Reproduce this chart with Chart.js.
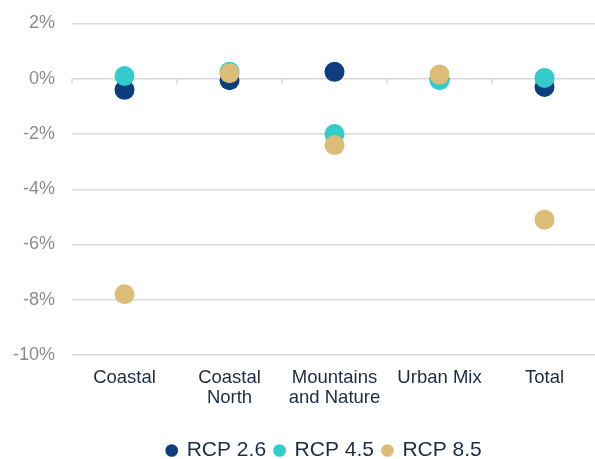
<!DOCTYPE html>
<html>
<head>
<meta charset="utf-8">
<script src="https://cdn.jsdelivr.net/npm/chart.js@4"></script>
<style>
html,body{margin:0;padding:0;background:#fff;overflow:hidden;}
#wrap{width:595px;height:459px;overflow:hidden;}
</style>
</head>
<body>
<div id="wrap"><canvas id="c" width="597" height="459"></canvas></div>
<script>
const categories = [["Coastal"], ["Coastal", "North"], ["Mountains", "and Nature"], ["Urban Mix"], ["Total"]];
const seriesNames = ["RCP 2.6", "RCP 4.5", "RCP 8.5"];
const rcp26 = [-0.4, -0.05, 0.25, 0.0, -0.3];
const rcp45 = [0.1, 0.25, -2.0, -0.05, 0.03];
const rcp85 = [-7.8, 0.2, -2.4, 0.15, -5.1];
const yTicks = [2, 0, -2, -4, -6, -8, -10];
const colors = ["#0c3d7d", "#33cccc", "#dbbd78"];

const zeroTicks = {
  id: 'zeroTicks',
  beforeDatasetsDraw(chart) {
    const x = chart.scales.x, y = chart.scales.y;
    const ctx = chart.ctx;
    const y0 = y.getPixelForValue(0);
    ctx.save();
    ctx.strokeStyle = '#d9d9d9';
    ctx.lineWidth = 1.5;
    const n = categories.length;
    for (let i = 0; i <= n; i++) {
      const px = x.getPixelForValue(i - 0.5);
      ctx.beginPath();
      ctx.moveTo(px, y0);
      ctx.lineTo(px, y0 + 5);
      ctx.stroke();
    }
    ctx.restore();
  }
};

const legendShift = {
  id: 'legendShift',
  afterLayout(chart) {
    chart.legend.left += 28;
    chart.legend.right += 28;
  }
};

const data = [rcp26, rcp45, rcp85];
new Chart(document.getElementById('c'), {
  type: 'line',
  data: {
    labels: categories,
    datasets: seriesNames.map((name, i) => ({
      label: name,
      data: data[i],
      showLine: false,
      backgroundColor: colors[i],
      borderColor: colors[i],
      pointBackgroundColor: colors[i],
      pointBorderWidth: 0,
      pointRadius: 10,
      pointHoverRadius: 10,
      pointStyle: 'circle',
      clip: false,
      order: 3 - i
    }))
  },
  options: {
    responsive: false,
    animation: false,
    layout: { autoPadding: false, padding: { left: -4, right: 0, top: 23.5, bottom: -12 } },
    plugins: {
      tooltip: { enabled: false },
      legend: {
        position: 'bottom',
        labels: {
          usePointStyle: true,
          boxWidth: 9,
          boxHeight: 9,
          padding: 9,
          color: '#1e2b45',
          font: { family: 'Liberation Sans, Arial, sans-serif', size: 21 },
          sort: (a, b) => a.datasetIndex - b.datasetIndex
        }
      }
    },
    scales: {
      x: {
        offset: true,
        grid: { display: false },
        border: { display: false },
        afterFit: (scale) => { scale.height += 18; scale.paddingLeft = 0; scale.paddingRight = 0; },
        ticks: {
          color: '#1e2b45',
          padding: 5,
          maxRotation: 0,
          autoSkip: false,
          font: { family: 'Liberation Sans, Arial, sans-serif', size: 18.5, lineHeight: 1.08 }
        }
      },
      y: {
        min: -10,
        max: 2,
        afterBuildTicks: (scale) => { scale.ticks = yTicks.map(v => ({ value: v })); },
        grid: { color: '#d9d9d9', lineWidth: 1.5, drawTicks: false },
        border: { display: false },
        ticks: {
          color: '#8c8c8c',
          padding: 17,
          font: { family: 'Liberation Sans, Arial, sans-serif', size: 18, lineHeight: 0.3 },
          callback: (v) => v + '%'
        }
      }
    }
  },
  plugins: [zeroTicks, legendShift]
});
</script>
</body>
</html>
